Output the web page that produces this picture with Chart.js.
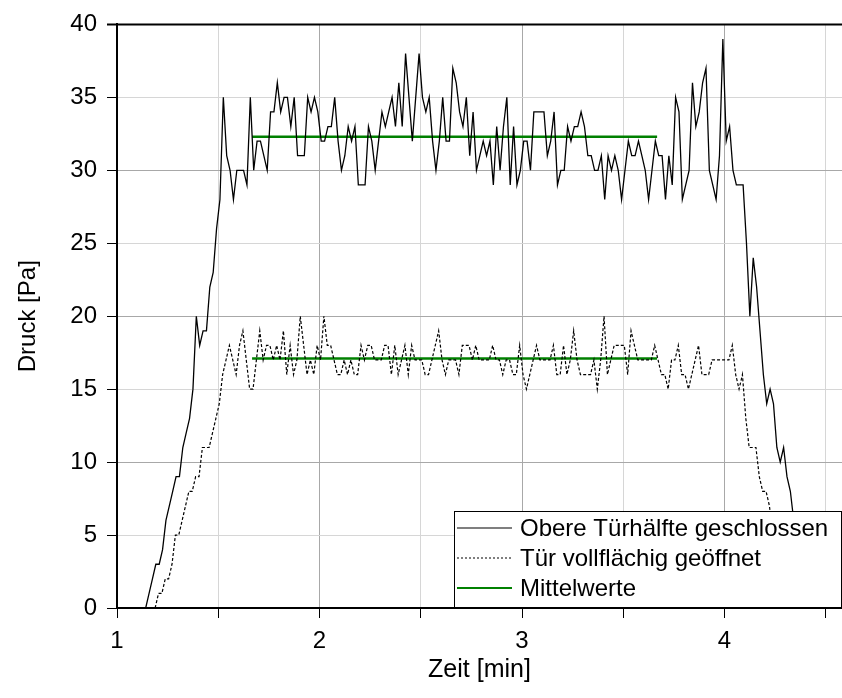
<!DOCTYPE html>
<html>
<head>
<meta charset="utf-8">
<script src="https://cdn.jsdelivr.net/npm/chart.js@4/dist/chart.umd.min.js"></script>
<style>
  html, body { margin: 0; padding: 0; background: #fff; }
</style>
</head>
<body>
<canvas id="chart" width="842" height="698"></canvas>
<script>
// Druckverlauf, eine Messung pro Sekunde
const seriesLabels = ['Obere Türhälfte geschlossen', 'Tür vollflächig geöffnet', 'Mittelwerte'];
const stepSec = 1;

const closedStartSec = 68.5;
const closedValues = [
  0, 1, 2, 3, 3, 4, 6, 7, 8, 9,
  9, 11, 12, 13, 15, 20, 18, 19, 19, 22,
  23, 26, 28, 35, 31, 30, 28, 30, 30, 30,
  29, 35, 30, 32, 32, 31, 30, 34, 34, 36,
  34, 35, 35, 33, 35, 31, 31, 31, 35, 34,
  35, 34, 32, 32, 33, 33, 35, 32, 30, 31,
  33, 32, 33, 29, 29, 29, 33, 32, 30, 32,
  34, 33, 34, 35, 33, 36, 33, 38, 35, 32,
  35, 38, 35, 34, 35, 32, 30, 32, 35, 32,
  32, 37, 36, 34, 33, 35, 31, 34, 30, 31,
  32, 31, 32, 29, 33, 30, 33, 35, 29, 33,
  29, 30, 32, 32, 30, 34, 34, 34, 34, 31,
  32, 34, 29, 30, 30, 33, 32, 33, 33, 34,
  33, 31, 31, 30, 30, 31, 28, 31, 30, 31,
  30, 28, 30, 32, 31, 31, 32, 31, 30, 28,
  30, 32, 31, 31, 28, 31, 29, 35, 34, 28,
  29, 30, 36, 33, 34, 36, 37, 30, 29, 28,
  31, 39, 32, 33, 30, 29, 29, 29, 25, 20,
  24, 22, 19, 16, 14, 15, 14, 11, 10, 11,
  9, 8, 6, 5, 3, 2, 0
];

const openStartSec = 71.3;
const openValues = [
  0, 1, 1, 2, 2, 3, 5, 5, 6, 7,
  8, 8, 9, 9, 11, 11, 11, 12, 13, 14,
  16, 17, 18, 17, 16, 18, 19, 17, 15, 15,
  17, 19, 17, 18, 18, 17, 18, 17, 19, 16,
  18, 16, 17, 20, 18, 16, 17, 16, 18, 17,
  20, 18, 18, 17, 16, 16, 17, 16, 17, 16,
  16, 18, 17, 18, 18, 17, 17, 17, 18, 18,
  16, 18, 16, 17, 18, 16, 18, 17, 17, 17,
  16, 16, 17, 18, 19, 17, 16, 17, 17, 17,
  16, 18, 18, 18, 17, 18, 17, 17, 17, 17,
  18, 17, 17, 16, 17, 17, 16, 16, 18, 16,
  15, 16, 17, 18, 17, 17, 17, 17, 18, 16,
  16, 18, 16, 17, 19, 17, 16, 16, 16, 16,
  17, 15, 17, 20, 16, 17, 18, 18, 18, 18,
  16, 19, 18, 17, 17, 17, 17, 17, 18, 17,
  16, 16, 15, 17, 17, 18, 16, 16, 15, 16,
  17, 18, 16, 16, 16, 17, 17, 17, 17, 17,
  17, 18, 16, 15, 16, 13, 11, 11, 11, 9,
  8, 8, 7, 5, 4, 3, 2, 1, 0
];

// Mittelwerte über den Plateaubereich (Zeit in min)
const meanRange = [1.667, 3.667];
const meanClosed = 32.3;
const meanOpen = 17.1;

const xLabels = [1, 2, 3, 4];
const yTicks = [0, 5, 10, 15, 20, 25, 30, 35, 40];

function toPoints(startSec, values) {
    return values.map((v, i) => ({ x: (startSec + i * stepSec) / 60, y: v }));
}

// Legende mit weissem Kasten, liegt über den Kurven
const boxLegend = {
    id: 'boxLegend',
    afterDraw(chart) {
        const ctx = chart.ctx;
        const area = chart.chartArea;
        const w = 387, h = 96;
        const left = area.right - w - 1;
        const top = area.bottom - h - 1;
        ctx.save();
        ctx.fillStyle = '#fff';
        ctx.fillRect(left, top, w, h);
        ctx.strokeStyle = '#000';
        ctx.lineWidth = 1;
        ctx.strokeRect(left + 0.5, top + 0.5, w, h);

        const seen = [];
        let row = 0;
        chart.data.datasets.forEach(ds => {
            if (seen.includes(ds.label)) return;
            seen.push(ds.label);
            const y = top + 17 + row * 30;
            ctx.beginPath();
            ctx.setLineDash(ds.legendDash || []);
            ctx.strokeStyle = ds.borderColor;
            ctx.lineWidth = ds.legendWidth || 1;
            ctx.moveTo(left + 3, y);
            ctx.lineTo(left + 58, y);
            ctx.stroke();
            ctx.setLineDash([]);
            ctx.fillStyle = '#000';
            ctx.font = '24px "Liberation Sans", Arial, sans-serif';
            ctx.textBaseline = 'middle';
            ctx.fillText(ds.label, left + 66, y + 1);
            row++;
        });
        ctx.restore();
    }
};

// obere Rahmenlinie
const topFrame = {
    id: 'topFrame',
    afterDatasetsDraw(chart) {
        const ctx = chart.ctx;
        const a = chart.chartArea;
        ctx.save();
        ctx.strokeStyle = '#000';
        ctx.lineWidth = 2;
        ctx.beginPath();
        ctx.moveTo(a.left - 10, a.top);
        ctx.lineTo(a.right, a.top);
        ctx.stroke();
        ctx.restore();
    }
};

Chart.defaults.font.family = '"Liberation Sans", Arial, sans-serif';
Chart.defaults.color = '#000';

const ctx = document.getElementById('chart').getContext('2d');
new Chart(ctx, {
    type: 'line',
    data: {
        datasets: [
            {
                label: seriesLabels[0],
                data: toPoints(closedStartSec, closedValues),
                borderColor: '#000',
                borderWidth: 1.3,
                legendWidth: 1.2
            },
            {
                label: seriesLabels[1],
                data: toPoints(openStartSec, openValues),
                borderColor: '#000',
                borderWidth: 1.2,
                borderDash: [3, 2],
                legendDash: [2, 2],
                legendWidth: 1
            },
            {
                label: seriesLabels[2],
                data: [{ x: meanRange[0], y: meanClosed }, { x: meanRange[1], y: meanClosed }],
                borderColor: '#008000',
                borderWidth: 2.5,
                legendWidth: 2
            },
            {
                label: seriesLabels[2],
                data: [{ x: meanRange[0], y: meanOpen }, { x: meanRange[1], y: meanOpen }],
                borderColor: '#008000',
                borderWidth: 2.5
            }
        ]
    },
    options: {
        responsive: false,
        animation: false,
        devicePixelRatio: 1,
        elements: {
            point: { radius: 0 },
            line: { tension: 0 }
        },
        layout: { padding: { top: 22, right: 0, left: 0, bottom: 0 } },
        plugins: {
            legend: { display: false },
            tooltip: { enabled: false }
        },
        scales: {
            x: {
                type: 'linear',
                min: 1,
                max: 4.58,
                ticks: {
                    stepSize: 0.5,
                    includeBounds: false,
                    autoSkip: false,
                    maxRotation: 0,
                    padding: 9,
                    font: { size: 24 },
                    callback: v => xLabels.includes(v) ? String(v) : ''
                },
                grid: {
                    color: c => Number.isInteger(c.tick.value) ? '#a8a8a8' : '#d6d6d6',
                    tickColor: '#000',
                    tickLength: 10
                },
                border: { color: '#000', width: 2 },
                title: {
                    display: true,
                    text: 'Zeit [min]',
                    font: { size: 25 },
                    padding: { top: 0, bottom: 13 }
                },
                afterFit: s => { s.height = 90; }
            },
            y: {
                min: 0,
                max: 40,
                afterBuildTicks: s => { s.ticks = yTicks.map(v => ({ value: v })); },
                ticks: {
                    padding: 10,
                    font: { size: 24 }
                },
                grid: {
                    color: c => c.tick.value % 10 === 0 ? '#a8a8a8' : '#d6d6d6',
                    tickColor: '#000',
                    tickLength: 10
                },
                border: { color: '#000', width: 2 },
                title: {
                    display: true,
                    text: 'Druck [Pa]',
                    font: { size: 24 },
                    padding: { top: 14, bottom: 0 }
                },
                afterFit: s => { s.width = 117; }
            }
        }
    },
    plugins: [topFrame, boxLegend]
});
</script>
</body>
</html>
